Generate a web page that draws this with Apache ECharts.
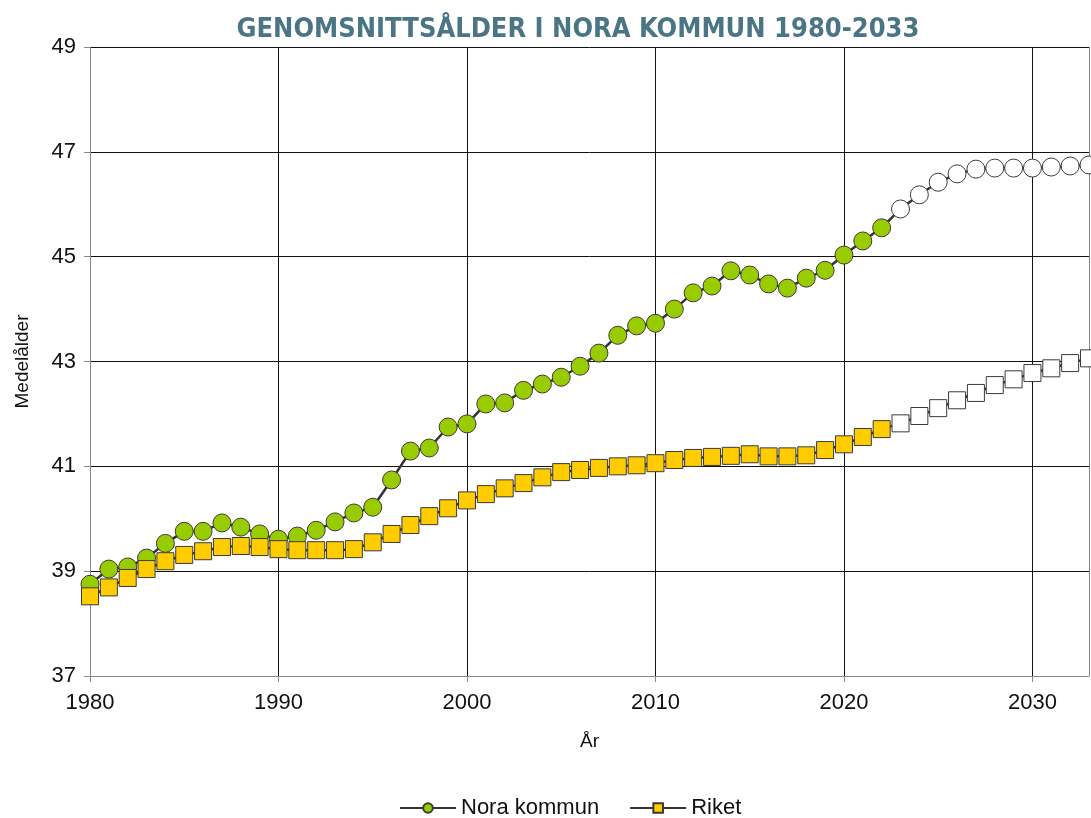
<!DOCTYPE html>
<html>
<head>
<meta charset="utf-8">
<script src="https://cdn.jsdelivr.net/npm/echarts@6/dist/echarts.min.js"></script>
<style>
  html, body { margin: 0; padding: 0; background: #fff; }
  #main { width: 1091px; height: 818px; }
</style>
</head>
<body>
<div id="main"></div>
<script>
// years 1980-2033, from 2023 on the values are a forecast (white markers)
var years = [];
for (var y = 1980; y <= 2033; y++) years.push(y);
var firstForecastYear = 2023;

var noraValues = [
  38.75, 39.04, 39.08, 39.25, 39.53, 39.76, 39.76, 39.92, 39.84, 39.71,
  39.61, 39.67, 39.78, 39.94, 40.11, 40.22, 40.74, 41.29, 41.35, 41.75,
  41.81, 42.19, 42.21, 42.45, 42.57, 42.70, 42.91, 43.16, 43.50, 43.68,
  43.73, 44.00, 44.31, 44.44, 44.73, 44.65, 44.48, 44.40, 44.59, 44.74,
  45.03, 45.30, 45.55, 45.91, 46.18, 46.42, 46.58, 46.67, 46.69, 46.69,
  46.69, 46.71, 46.73, 46.75
];

var riketValues = [
  38.52, 38.69, 38.87, 39.04, 39.19, 39.31, 39.38, 39.46, 39.48, 39.46,
  39.42, 39.40, 39.40, 39.40, 39.42, 39.55, 39.71, 39.88, 40.05, 40.20,
  40.35, 40.47, 40.58, 40.68, 40.79, 40.89, 40.93, 40.97, 41.00, 41.02,
  41.06, 41.12, 41.16, 41.18, 41.20, 41.23, 41.19, 41.19, 41.21, 41.31,
  41.42, 41.56, 41.71, 41.82, 41.96, 42.11, 42.26, 42.40, 42.55, 42.66,
  42.78, 42.87, 42.97, 43.06
];

var yTicks = { min: 37, max: 49, step: 2 };
var xTicks = { min: 1980, max: 2033, step: 10 };

function toPoints(values) {
  return years.map(function (yr, i) {
    var p = { value: [yr, values[i]] };
    if (yr >= firstForecastYear) p.itemStyle = { color: '#ffffff' };
    return p;
  });
}

var font = '"Liberation Sans", Arial, sans-serif';

var myChart = echarts.init(document.getElementById('main'));
myChart.setOption({
  animation: false,
  title: {
    text: 'GENOMSNITTSÅLDER I NORA KOMMUN 1980-2033',
    left: 573,
    textAlign: 'center',
    top: 11,
    textStyle: {
      fontFamily: '"Liberation Sans Narrow", "DejaVu Sans Condensed", sans-serif',
      fontWeight: 'bold',
      fontSize: 27,
      color: '#4a7585'
    }
  },
  legend: {
    top: 792,
    left: 394,
    itemWidth: 56,
    itemHeight: 12,
    itemGap: 30,
    textStyle: { fontFamily: font, fontSize: 22, color: '#111' },
    data: ['Nora kommun', 'Riket']
  },
  grid: { left: 90, right: 2, top: 47, bottom: 142 },
  xAxis: {
    type: 'value',
    min: xTicks.min,
    max: xTicks.max,
    interval: xTicks.step,
    name: 'År',
    nameLocation: 'middle',
    nameGap: 56,
    nameTextStyle: { fontFamily: font, fontSize: 19, color: '#111' },
    axisLine: { lineStyle: { color: '#888', width: 1 } },
    axisTick: { length: 6, lineStyle: { color: '#888' } },
    axisLabel: {
      showMaxLabel: false,
      margin: 16,
      fontFamily: font, fontSize: 22, color: '#111',
      formatter: function (v) { return String(v); }
    },
    splitLine: {
      show: true,
      lineStyle: { color: ['#888', '#111', '#111', '#111', '#111', '#111', '#888'], width: 1 }
    }
  },
  yAxis: {
    type: 'value',
    min: yTicks.min,
    max: yTicks.max,
    interval: yTicks.step,
    name: 'Medelålder',
    nameLocation: 'middle',
    nameGap: 58,
    nameTextStyle: { fontFamily: font, fontSize: 19, color: '#111' },
    axisLine: { show: true, lineStyle: { color: '#888', width: 1 } },
    axisTick: { show: true, length: 6, lineStyle: { color: '#888' } },
    axisLabel: { margin: 14, fontFamily: font, fontSize: 22, color: '#111' },
    splitLine: { show: true, lineStyle: { color: '#111', width: 1 } }
  },
  series: [{
    name: 'Nora kommun',
    type: 'line',
    symbol: 'circle',
    symbolSize: 18,
    lineStyle: { color: '#333', width: 2.5 },
    itemStyle: { color: '#99cc00', borderColor: '#3a3a3a', borderWidth: 1 },
    data: toPoints(noraValues)
  }, {
    name: 'Riket',
    type: 'line',
    symbol: 'rect',
    symbolSize: 17,
    lineStyle: { color: '#333', width: 2.5 },
    itemStyle: { color: '#ffcc00', borderColor: '#3a3a3a', borderWidth: 1 },
    data: toPoints(riketValues)
  }]
});
</script>
</body>
</html>
